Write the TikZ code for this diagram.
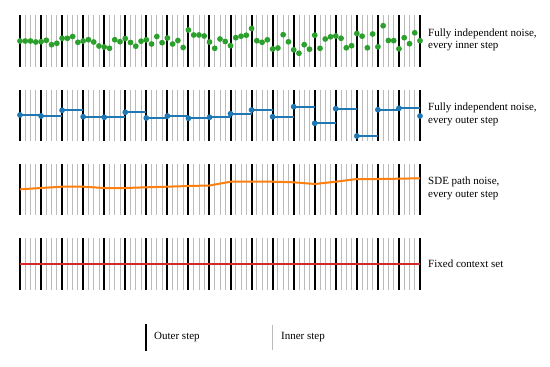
\documentclass[tikz,border=0pt]{standalone}
\usepackage{fontspec}
\setmainfont{Liberation Serif}
\definecolor{tabgreen}{HTML}{2CA02C}
\definecolor{tabblue}{HTML}{1F77B4}
\definecolor{taborange}{HTML}{FF7F0E}
\definecolor{tabred}{HTML}{D62728}
\definecolor{innergray}{HTML}{BBBBBB}
\begin{document}
\begin{tikzpicture}[x=1pt,y=-1pt,
  outerln/.style={black,line width=2pt},
  innerln/.style={innergray,line width=0.8pt},
  lbl/.style={font=\fontsize{11}{12.5}\selectfont, align=left, anchor=west, inner sep=0pt},
  gdot/.style={fill=tabgreen},
  bdot/.style={fill=tabblue},
  pathln/.style={line width=2pt}]
\useasboundingbox (0,0) rectangle (550,367);
% grids
\foreach \top/\bot in {15/67, 90/141, 164/215, 238/290} {
  \foreach \k in {0,...,76} {
    \draw[innerln] ({20+\k*5.263158},\top) -- ({20+\k*5.263158},\bot);
  }
  \foreach \i in {0,...,19} {
    \draw[outerln] ({20+\i*21.052632},\top) -- ({20+\i*21.052632},\bot);
  }
}
% row 1: green dots every inner step
\foreach \y [count=\k from 0] in {41,41,41,42,41.7,40.3,44.7,43.3,38.3,38.3,
  36.5,42.3,41,39.7,42,46,47,48.3,39.7,41.7,
  38.5,42.5,46.2,41.2,39.8,44,36.5,42.7,38,44,
  40.5,47.5,30,35,35,36,42,48.3,39,41.5,
  45.7,37.7,36.2,35.2,28.5,40.7,42.3,39.8,49,48,
  34.7,41.8,49.8,53.3,44.7,49.2,35.2,48.3,39,36.8,
  36,38.3,47.8,45.7,33.5,36.2,47.8,34,46.8,25.7,
  40.5,40.6,48.8,37.7,43.7,32.8,40.7} {
  \fill[gdot] ({20+\k*5.263158},\y) circle (2.9pt);
}
% row 2: blue steps every outer step
\foreach \y [count=\i from 0] in {115,116,110.3,116.7,117.3,112.3,118,116,118.3,117.3,
  113.7,110,116.7,106.7,123.3,108.7,136,109.7,108.3} {
  \draw[tabblue,pathln] ({20+\i*21.052632},\y) -- ({20+(\i+1)*21.052632},\y);
}
\foreach \y [count=\i from 0] in {115,116,110.3,116.7,117.3,112.3,118,116,118.3,117.3,
  113.7,110,116.7,106.7,123.3,108.7,136,109.7,108.3,116} {
  \fill[bdot] ({20+\i*21.052632},\y) circle (2.9pt);
}
% row 3: orange SDE path
\draw[taborange,pathln,line join=round] (20,189.3) -- (41.05,188) -- (62.11,186.7) -- (83.16,186.7)
  -- (104.21,188) -- (125.26,188) -- (146.32,187.3) -- (167.37,186.7) -- (188.42,186)
  -- (209.47,185.5) -- (230.53,181.7) -- (251.58,181.7) -- (272.63,181.7) -- (293.68,182.3)
  -- (314.74,184) -- (335.79,181.7) -- (356.84,179) -- (377.89,179) -- (398.95,178.7)
  -- (420,178.3);
% row 4: red fixed context
\draw[tabred,pathln] (20,263.5) -- (420,263.5);
% labels
\node[lbl] (l1) at (428,40) {Fully independent noise,\\every inner step};
\node[lbl] (l2) at (428,114.5) {Fully independent noise,\\every outer step};
\node[lbl] (l3) at (428,188.5) {SDE path noise,\\every outer step};
\node[lbl] (l4) at (428,264) {Fixed context set};
% legend
\draw[outerln] (145.7,324) -- (145.7,351);
\node[lbl] (lo) at (154,337.5) {Outer step};
\draw[innerln] (272.7,325) -- (272.7,350);
\node[lbl] (li) at (281,337.5) {Inner step};
\end{tikzpicture}
\end{document}
